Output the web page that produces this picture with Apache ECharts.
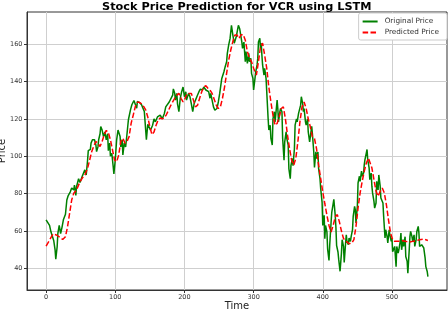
<!DOCTYPE html>
<html>
<head>
<meta charset="utf-8">
<script src="https://cdn.jsdelivr.net/npm/echarts@6/dist/echarts.min.js"></script>
<style>html,body{margin:0;padding:0;background:#fff}#c{width:448px;height:310px}</style>
</head>
<body>
<div id="c"></div>
<script>
const titleText = 'Stock Price Prediction for VCR using LSTM';
const seriesNames = ['Original Price', 'Predicted Price'];
const xTicks = [0, 100, 200, 300, 400, 500];
const yTicks = [40, 60, 80, 100, 120, 140, 160];

const origT = [0,2,5,7,9,11,13,14,16,17,19,21,23,25,28,29,30,32,33,35,37,40,41,43,44,47,49,52,54,56,58,60,61,64,65,67,68,70,72,73,75,76,78,79,81,83,85,87,89,90,92,93,95,97,98,100,102,104,105,107,108,110,111,113,115,117,119,121,122,124,127,129,131,132,135,138,140,142,144,145,147,149,151,154,156,158,161,163,165,168,171,173,175,178,180,183,184,186,187,189,190,192,194,196,198,200,202,203,206,208,210,212,214,216,219,221,223,226,228,231,233,235,237,238,240,242,244,247,249,251,254,255,257,259,261,262,264,266,268,270,272,273,275,278,280,283,284,286,288,289,291,293,294,296,297,299,300,302,303,305,306,307,309,310,311,312,313,315,316,318,319,321,322,324,325,327,328,330,331,332,334,335,336,338,339,341,342,344,345,347,348,350,351,353,354,356,357,359,360,362,363,365,366,368,369,371,372,373,375,376,378,379,381,382,384,385,387,388,390,391,393,394,396,397,399,400,402,403,404,406,407,409,410,412,413,415,416,418,419,420,422,423,425,427,428,430,431,433,434,435,437,438,440,441,443,444,446,447,448,450,451,453,454,456,457,459,460,461,463,464,465,467,468,470,471,472,474,475,477,478,480,481,483,484,486,487,488,490,491,493,494,496,497,499,500,501,503,504,506,507,509,510,512,513,514,516,517,519,520,522,523,525,526,527,529,530,532,533,535,536,538,539,540,542,543,545,546,548,549,551,552];
const origV = [66,65,63,59.6,58.7,55,50,45,51.6,58.7,63,58.7,62,66,69,70,76.6,79,78,81,83,82,84.6,79,83.7,88,86,89,88,92.7,90,98,103,103.7,107,108.8,109,108.8,106,102.5,105,108.8,112,115.9,114,110.5,113,108.8,112,103,107,100,101.6,94.5,90.5,98,108.8,114,114.5,110.5,105,108.8,100.7,107,105,112,119.5,120.4,124.8,127.5,129.8,129.3,125.7,129.3,128.7,127.5,125.7,124,125,108.8,117,117.5,114,116.6,120,118.4,121,120,122,120,122.9,126.4,127.3,129,128,132.7,136,133.6,130,133.6,128,123.8,131,134.5,137,131.8,134.5,130,133.6,131.8,128,123.8,128,130,132.7,134.5,135.9,135.4,137,135.4,136,134.5,131,133.6,130,126.4,124.6,125.5,129,133.6,141.6,142.5,145,148,150.5,155,159.5,163,170,164.8,160.4,161,164,170,168,161,157.7,161,150.5,156,149.6,155,150.5,152.3,144.3,141.6,135.4,141.6,145,148.8,152.3,161,163,157.7,160.4,154,148.8,143.4,147,141.6,134.5,120,114,116.6,109.5,106,120,123.8,118.4,122,130,125.5,118.4,123.8,125.5,123.8,109.5,97.9,107.7,113,109.5,106,93.4,88,95,98.8,95,104,116.6,120,118.4,122.9,123.8,127.3,131.8,128,123.8,125.5,118.4,116.6,120,113,107.7,110.4,116,112,102.3,94,102.3,98.8,102.3,93.4,88,82.7,75.5,63,68.4,55.9,63,59.5,50.5,44.3,52.3,64.6,70,74.6,77,68.4,62,52.3,48.8,45,38.5,48.2,55.4,51.8,43.2,53.6,58,54.5,52.7,56.3,54.5,57,60.7,67.9,73.2,71.4,64.3,73.2,85.7,89.3,86.6,92,89.3,91,95.5,98.2,101.8,103.6,98.2,93.8,87.5,91,84,80.4,75.9,72.3,75,86.6,82,90,84,77.7,78.6,75,67.9,56.3,60.7,57,53.6,60.7,58,54.5,56.3,49,48.2,51.8,41,51.8,48.2,50,54.5,59,50,55.4,51.8,57,46.4,43.8,37.5,50,57,59.8,57,54.5,58,51.8,55.4,59.8,62.5,59,51.8,51,52.7,51.8,51,45.5,41,38.4,35.7];

const predT = [0,5,10,15,20,24,28,31,34,37,40,44,48,52,56,60,63,66,69,72,75,78,81,84,87,90,93,96,99,102,105,108,111,114,117,120,123,126,129,132,135,138,141,144,147,150,153,156,159,162,165,168,171,174,177,180,183,186,189,192,195,198,201,204,207,210,213,216,219,222,225,228,231,234,237,240,243,246,249,252,255,258,261,264,267,270,273,276,279,282,285,288,291,294,297,300,304,307,310,313,316,319,322,325,328,331,334,337,340,343,346,349,352,355,358,361,364,367,370,373,376,379,382,385,388,391,394,397,400,403,406,409,412,415,418,421,424,427,430,434,438,442,445,448,451,454,457,460,463,466,468,471,474,477,480,483,486,489,492,495,498,501,504,510,515,520,525,530,535,540,545,549,552];
const predV = [52,55.2,58.4,57.9,56.6,55.5,57,62.3,69.5,76.6,80.2,82,85.5,88.2,90,93.6,98,102.5,105.5,107.9,107,105.2,107.9,111.4,113.8,112.7,108.8,103.4,98,97,100.7,107.9,109.6,107,107.9,110.5,117.7,122,126.6,128.8,128.8,128,126.6,124.8,121,115.7,111.6,113,116.6,119.3,120.5,120,120.5,122.3,124.6,127,129,131,132.7,133.6,131,129,131,133.6,133.6,133.6,130,126.4,127.3,131,134.5,137,137.7,136.3,135.4,133.6,130.5,127.3,125.5,126.4,131,137,144.3,151.4,156.8,161.3,164.8,164.8,163,165,165,162,156,152.5,150.5,147,143.4,150.5,158.6,160.4,154,147,137,129,122,116.6,117.5,121,125.5,126.4,120,111.3,104,97.9,95.2,98.8,107.7,118.4,126.4,129,125.5,120,115.7,110.4,109.5,104,95.2,88,80.9,74.6,68.4,63,59.5,63,67.5,68.8,65,60,56,54.5,53.2,53.6,55.4,62.5,72.3,80.4,86.6,92,96.4,99,99,93.8,87.5,81.3,78.6,81.3,83,80.4,74,66,58.9,55.4,54.5,54.5,54.8,54.5,54.1,54.5,54.8,55.4,55.7,55.4,55];

const pairs = (ts, vs) => ts.map((t, i) => [t, vs[i]]);
const FONT = 'DejaVu Sans';

const chart = echarts.init(document.getElementById('c'), null, {renderer: 'canvas'});
chart.setOption({
  animation: false,
  backgroundColor: '#fff',
  textStyle: {fontFamily: FONT},
  title: {
    text: titleText, left: 97, top: -3,
    textStyle: {fontFamily: FONT, fontSize: 11.3, fontWeight: 'bold', color: '#000'}
  },
  legend: {
    data: seriesNames, orient: 'vertical', right: 1, top: 13,
    itemWidth: 15, itemHeight: 8, itemGap: 4, padding: [5, 8, 4, 3],
    borderColor: '#ccc', borderWidth: 1, borderRadius: 2, backgroundColor: '#fff',
    itemStyle: {opacity: 0},
    textStyle: {fontFamily: FONT, fontSize: 7.3, color: '#333', padding: [0,0,0,2]}
  },
  grid: {left: 27, right: 1, top: 12, bottom: 20, outerBoundsMode: 'none', containLabel: false,
         show: true, borderColor: '#333', borderWidth: 1, backgroundColor: 'transparent'},
  xAxis: {
    type: 'value', min: -27.6, max: 579.6,
    name: 'Time', nameLocation: 'middle', nameGap: 11, nameMoveOverlap: false,
    nameTextStyle: {fontFamily: FONT, fontSize: 10, color: '#222'},
    axisLine: {show: true, onZero: false, lineStyle: {color: '#333', width: 1}},
    axisTick: {show: true, length: 3, customValues: xTicks, lineStyle: {color: '#333'}},
    axisLabel: {customValues: xTicks, fontSize: 6.5, color: '#333', margin: 4, fontFamily: FONT},
    splitLine: {show: true, lineStyle: {color: '#cfcfcf', width: 1}}
  },
  yAxis: {
    type: 'value', min: 28.5, max: 177.1,
    name: 'Price', nameLocation: 'middle', nameGap: 20, nameRotate: 90, nameMoveOverlap: false,
    nameTextStyle: {fontFamily: FONT, fontSize: 10, color: '#222'},
    axisLine: {show: true, onZero: false, lineStyle: {color: '#333', width: 1}},
    axisTick: {show: true, length: 3, customValues: yTicks, lineStyle: {color: '#333'}},
    axisLabel: {customValues: yTicks, fontSize: 6.5, color: '#333', margin: 4.5, fontFamily: FONT},
    splitLine: {show: true, lineStyle: {color: '#cfcfcf', width: 1}}
  },
  series: [
    {name: seriesNames[0], type: 'line', data: pairs(origT, origV), symbol: 'none', z: 2,
     lineStyle: {color: '#008000', width: 1.5}, itemStyle: {color: '#008000'}},
    {name: seriesNames[1], type: 'line', data: pairs(predT, predV), symbol: 'none', z: 3,
     lineStyle: {color: '#ff0000', width: 1.5, type: [5.5, 2.4]}, itemStyle: {color: '#ff0000'}}
  ]
});
</script>
</body>
</html>
